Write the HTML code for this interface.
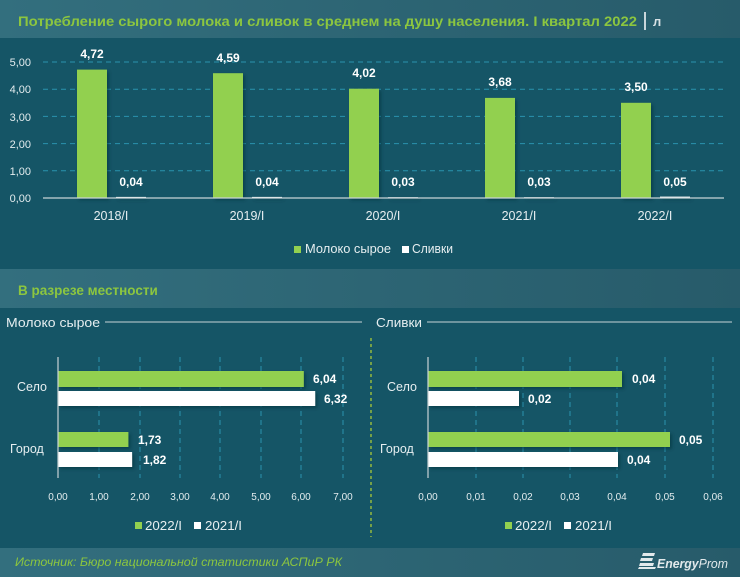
<!DOCTYPE html>
<html><head><meta charset="utf-8"><style>
html,body{margin:0;padding:0;background:#155566;}
svg{display:block;}
text{font-family:"Liberation Sans","DejaVu Sans",sans-serif;}
</style></head><body>
<svg width="740" height="577" viewBox="0 0 740 577" xmlns="http://www.w3.org/2000/svg">
<defs>
<linearGradient id="hdr" x1="0" y1="0" x2="1" y2="0">
<stop offset="0" stop-color="#336f7e"/><stop offset="1" stop-color="#275b6a"/>
</linearGradient>
<filter id="sh" x="-20%" y="-20%" width="150%" height="160%">
<feDropShadow dx="2" dy="2" stdDeviation="1.5" flood-color="#06303c" flood-opacity="0.6"/>
</filter>
</defs>
<rect x="0" y="0" width="740" height="577" fill="#155566"/>
<rect x="0" y="0" width="740" height="38" fill="url(#hdr)"/>
<text x="18" y="26" font-size="13.5" font-weight="bold" fill="#8cc63f" textLength="619" lengthAdjust="spacingAndGlyphs">Потребление сырого молока и сливок в среднем на душу населения. I квартал 2022</text>
<rect x="644" y="12" width="2" height="18" fill="#c9d6da"/>
<text x="653" y="26" font-size="13" font-weight="bold" fill="#d8e2e5">л</text>

<!-- top chart grid -->
<g stroke="#2a93ae" stroke-width="1" stroke-dasharray="5,4">
<line x1="43" y1="62" x2="725" y2="62"/>
<line x1="43" y1="89.2" x2="725" y2="89.2"/>
<line x1="43" y1="116.4" x2="725" y2="116.4"/>
<line x1="43" y1="143.6" x2="725" y2="143.6"/>
<line x1="43" y1="170.8" x2="725" y2="170.8"/>
</g>
<g font-size="11" fill="#e3ecee" text-anchor="end">
<text x="31" y="66">5,00</text>
<text x="31" y="93">4,00</text>
<text x="31" y="121">3,00</text>
<text x="31" y="148">2,00</text>
<text x="31" y="175">1,00</text>
<text x="31" y="202">0,00</text>
</g>
<g filter="url(#sh)">
<rect x="77" y="69.6" width="30" height="128.4" fill="#92d050"/>
<rect x="213" y="73.2" width="30" height="124.8" fill="#92d050"/>
<rect x="349" y="88.7" width="30" height="109.3" fill="#92d050"/>
<rect x="485" y="97.9" width="30" height="100.1" fill="#92d050"/>
<rect x="621" y="102.8" width="30" height="95.2" fill="#92d050"/>
<rect x="116" y="196.9" width="30" height="1.1" fill="#ffffff"/>
<rect x="252" y="196.9" width="30" height="1.1" fill="#ffffff"/>
<rect x="388" y="197.2" width="30" height="0.8" fill="#ffffff"/>
<rect x="524" y="197.2" width="30" height="0.8" fill="#ffffff"/>
<rect x="660" y="196.6" width="30" height="1.4" fill="#ffffff"/>
</g>
<line x1="43" y1="198" x2="724" y2="198" stroke="#c8d3d6" stroke-width="1.2"/>
<g font-size="12" font-weight="bold" fill="#ffffff" text-anchor="middle">
<text x="92" y="58">4,72</text>
<text x="228" y="62">4,59</text>
<text x="364" y="77">4,02</text>
<text x="500" y="86">3,68</text>
<text x="636" y="91">3,50</text>
<text x="131" y="186">0,04</text>
<text x="267" y="186">0,04</text>
<text x="403" y="186">0,03</text>
<text x="539" y="186">0,03</text>
<text x="675" y="186">0,05</text>
</g>
<g font-size="12.5" fill="#e6eef0" text-anchor="middle">
<text x="111" y="220">2018/I</text>
<text x="247" y="220">2019/I</text>
<text x="383" y="220">2020/I</text>
<text x="519" y="220">2021/I</text>
<text x="655" y="220">2022/I</text>
</g>
<rect x="294" y="246" width="7" height="7" fill="#92d050"/>
<text x="305" y="253" font-size="12.5" fill="#e6eef0" textLength="86" lengthAdjust="spacingAndGlyphs">Молоко сырое</text>
<rect x="402" y="246" width="7" height="7" fill="#ffffff"/>
<text x="412" y="253" font-size="12.5" fill="#e6eef0" textLength="41" lengthAdjust="spacingAndGlyphs">Сливки</text>

<!-- section band -->
<rect x="0" y="269" width="740" height="39" fill="url(#hdr)"/>
<text x="18" y="295" font-size="13.5" font-weight="bold" fill="#8cc63f">В разрезе местности</text>

<!-- panel titles -->
<text x="6" y="327" font-size="13" fill="#e6eef0" textLength="94" lengthAdjust="spacingAndGlyphs">Молоко сырое</text>
<line x1="105" y1="322" x2="362" y2="322" stroke="#c8d3d6" stroke-width="1"/>
<text x="376" y="327" font-size="13" fill="#e6eef0" textLength="46" lengthAdjust="spacingAndGlyphs">Сливки</text>
<line x1="427" y1="322" x2="732" y2="322" stroke="#c8d3d6" stroke-width="1"/>
<line x1="371" y1="338" x2="371" y2="537" stroke="#b5d334" stroke-width="1.2" stroke-dasharray="3,3"/>

<!-- left chart -->
<g stroke="#2a93ae" stroke-width="1" stroke-dasharray="5,4">
<line x1="99" y1="357" x2="99" y2="478"/>
<line x1="140" y1="357" x2="140" y2="478"/>
<line x1="180" y1="357" x2="180" y2="478"/>
<line x1="220" y1="357" x2="220" y2="478"/>
<line x1="261" y1="357" x2="261" y2="478"/>
<line x1="301" y1="357" x2="301" y2="478"/>
<line x1="343" y1="357" x2="343" y2="478"/>
</g>
<g filter="url(#sh)">
<rect x="58" y="371" width="245.8" height="16" fill="#92d050"/>
<rect x="58" y="391" width="257.2" height="15" fill="#ffffff"/>
<rect x="58" y="432" width="70.4" height="15" fill="#92d050"/>
<rect x="58" y="452" width="74.1" height="15" fill="#ffffff"/>
</g>
<line x1="58" y1="357" x2="58" y2="478" stroke="#c8d3d6" stroke-width="1.2"/>
<g font-size="12" font-weight="bold" fill="#ffffff">
<text x="313" y="383">6,04</text>
<text x="324" y="403">6,32</text>
<text x="138" y="444">1,73</text>
<text x="143" y="464">1,82</text>
</g>
<g font-size="12.5" fill="#e6eef0">
<text x="17" y="391">Село</text>
<text x="10" y="453">Город</text>
</g>
<g font-size="10" fill="#e3ecee" text-anchor="middle">
<text x="58" y="500">0,00</text>
<text x="99" y="500">1,00</text>
<text x="140" y="500">2,00</text>
<text x="180" y="500">3,00</text>
<text x="220" y="500">4,00</text>
<text x="261" y="500">5,00</text>
<text x="301" y="500">6,00</text>
<text x="343" y="500">7,00</text>
</g>
<rect x="135" y="522" width="7" height="7" fill="#92d050"/>
<text x="145" y="530" font-size="13" fill="#e6eef0" textLength="37" lengthAdjust="spacingAndGlyphs">2022/I</text>
<rect x="194" y="522" width="7" height="7" fill="#ffffff"/>
<text x="205" y="530" font-size="13" fill="#e6eef0" textLength="37" lengthAdjust="spacingAndGlyphs">2021/I</text>

<!-- right chart -->
<g stroke="#2a93ae" stroke-width="1" stroke-dasharray="5,4">
<line x1="476" y1="357" x2="476" y2="478"/>
<line x1="523" y1="357" x2="523" y2="478"/>
<line x1="570" y1="357" x2="570" y2="478"/>
<line x1="617" y1="357" x2="617" y2="478"/>
<line x1="665" y1="357" x2="665" y2="478"/>
<line x1="713" y1="357" x2="713" y2="478"/>
</g>
<g filter="url(#sh)">
<rect x="428" y="371" width="194" height="16" fill="#92d050"/>
<rect x="428" y="391" width="91" height="15" fill="#ffffff"/>
<rect x="428" y="432" width="242" height="15" fill="#92d050"/>
<rect x="428" y="452" width="190" height="15" fill="#ffffff"/>
</g>
<line x1="428" y1="357" x2="428" y2="478" stroke="#c8d3d6" stroke-width="1.2"/>
<g font-size="12" font-weight="bold" fill="#ffffff">
<text x="632" y="383">0,04</text>
<text x="528" y="403">0,02</text>
<text x="679" y="444">0,05</text>
<text x="627" y="464">0,04</text>
</g>
<g font-size="12.5" fill="#e6eef0">
<text x="387" y="391">Село</text>
<text x="380" y="453">Город</text>
</g>
<g font-size="10" fill="#e3ecee" text-anchor="middle">
<text x="428" y="500">0,00</text>
<text x="476" y="500">0,01</text>
<text x="523" y="500">0,02</text>
<text x="570" y="500">0,03</text>
<text x="617" y="500">0,04</text>
<text x="665" y="500">0,05</text>
<text x="713" y="500">0,06</text>
</g>
<rect x="505" y="522" width="7" height="7" fill="#92d050"/>
<text x="515" y="530" font-size="13" fill="#e6eef0" textLength="37" lengthAdjust="spacingAndGlyphs">2022/I</text>
<rect x="564" y="522" width="7" height="7" fill="#ffffff"/>
<text x="575" y="530" font-size="13" fill="#e6eef0" textLength="37" lengthAdjust="spacingAndGlyphs">2021/I</text>

<!-- footer -->
<rect x="0" y="548" width="740" height="29" fill="url(#hdr)"/>
<text x="15" y="566" font-size="12" font-style="italic" fill="#8cc63f" textLength="327" lengthAdjust="spacingAndGlyphs">Источник: Бюро национальной статистики АСПиР РК</text>
<g fill="#e2e9eb">
<polygon points="643,553 655,553 654,556 642,556"/>
<polygon points="641,558 653,558 652,561 640,561"/>
<polygon points="640,563 654,563 653,566 639,566"/>
<polygon points="639,567 656,567 655,569 638,569"/>
</g>
<text x="657" y="568" font-size="13" font-style="italic" fill="#e2e9eb" textLength="71" lengthAdjust="spacingAndGlyphs"><tspan font-weight="bold">Energy</tspan>Prom</text>
</svg>
</body></html>
